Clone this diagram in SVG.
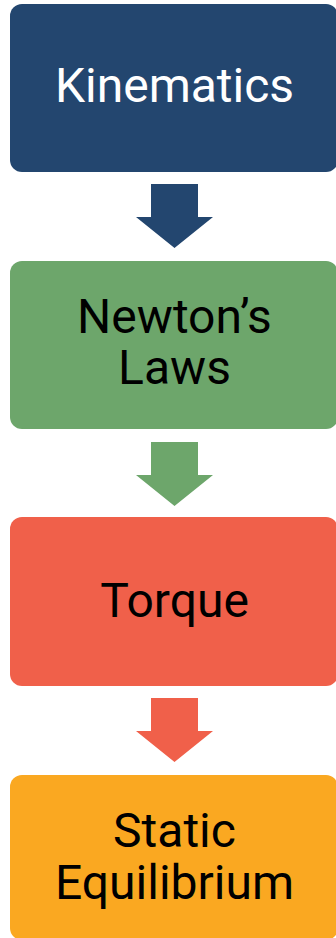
<svg xmlns="http://www.w3.org/2000/svg" width="336" height="938" viewBox="0 0 336 938">
  <style>
    .box { stroke: none; }
    .label { font-family: Roboto, "Liberation Sans", sans-serif; font-size: 48px; text-anchor: middle; fill: #000; }
    .light { fill: #fff; }
  </style>
  <defs>
    <!-- block arrow pointing down, origin at shaft top centre -->
    <path id="down" d="M-23.5 0 H23.5 V33 H38.5 L0 64 L-38.5 33 H-23.5 Z"/>
  </defs>
  <rect width="336" height="938" fill="#fff"/>

  <g id="connectors">
    <use href="#down" x="174.5" y="184" fill="#23466F"/>
    <use href="#down" x="174.5" y="442" fill="#6DA66B"/>
    <use href="#down" x="174.5" y="698" fill="#F0604A"/>
  </g>

  <g id="kinematics">
    <rect class="box" x="10" y="4" width="328" height="168" rx="12" fill="#23466F"/>
    <text class="label light" x="174.5" y="102">Kinematics</text>
  </g>

  <g id="newtons-laws">
    <rect class="box" x="10" y="261" width="328" height="168" rx="12" fill="#6DA66B"/>
    <text class="label" x="174.5" y="333">Newton’s</text>
    <text class="label" x="174.5" y="384">Laws</text>
  </g>

  <g id="torque">
    <rect class="box" x="10" y="517" width="328" height="169" rx="12" fill="#F0604A"/>
    <text class="label" x="174.5" y="617">Torque</text>
  </g>

  <g id="static-equilibrium">
    <rect class="box" x="10" y="775" width="328" height="165" rx="12" fill="#FAA821"/>
    <text class="label" x="174.5" y="847">Static</text>
    <text class="label" x="174.5" y="899">Equilibrium</text>
  </g>
</svg>
